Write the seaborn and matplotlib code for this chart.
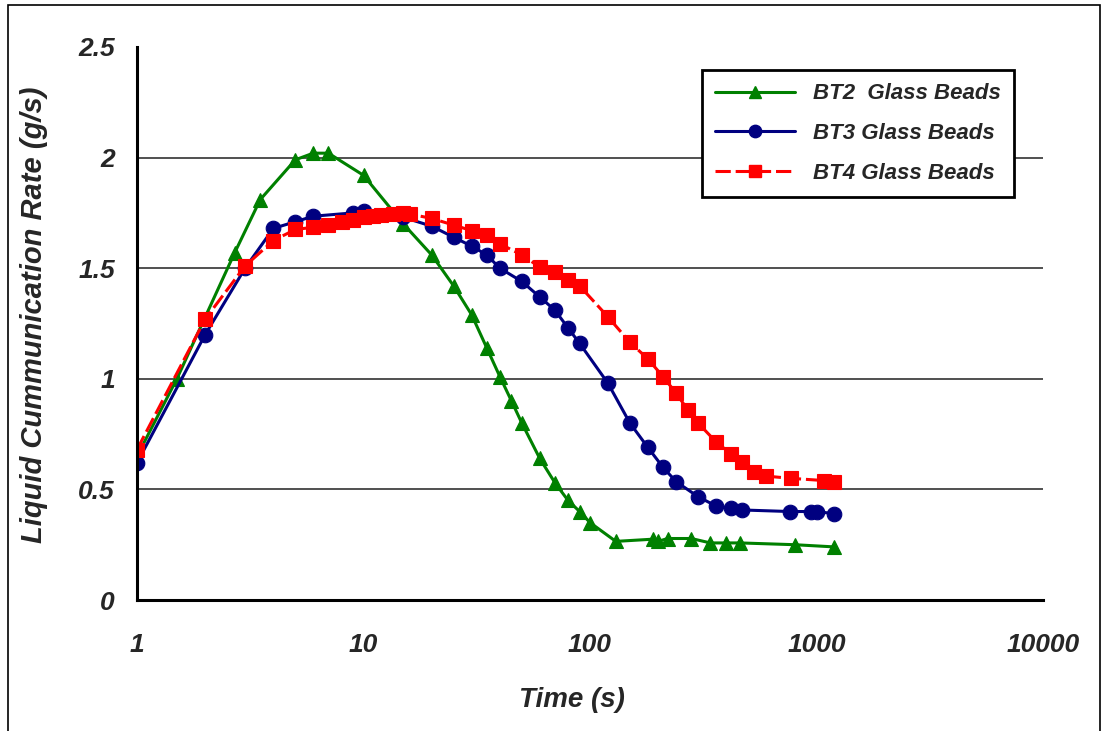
import matplotlib
matplotlib.use("Agg")
import matplotlib.pyplot as plt
import seaborn as sns
import pandas as pd
from matplotlib.ticker import MultipleLocator, LogLocator, NullFormatter
from matplotlib.lines import Line2D
from matplotlib.patches import Rectangle

# ---------------- data ----------------
bt2_t = [1, 1.5, 2.7, 3.5, 5, 6, 7, 10, 15, 20, 25, 30, 35, 40, 45, 50, 60, 70,
         80, 90, 100, 130, 190, 200, 220, 280, 340, 400, 460, 800, 1200]
bt2_y = [0.65, 1.00, 1.57, 1.81, 1.99, 2.02, 2.02, 1.92, 1.70, 1.56, 1.42, 1.29,
         1.14, 1.01, 0.90, 0.80, 0.64, 0.53, 0.45, 0.40, 0.35, 0.265, 0.275,
         0.265, 0.278, 0.278, 0.258, 0.258, 0.258, 0.25, 0.24]

bt3_t = [1, 2, 3, 4, 5, 6, 9, 10, 15, 20, 25, 30, 35, 40, 50, 60, 70, 80, 90,
         120, 150, 180, 210, 240, 300, 360, 420, 470, 760, 950, 1000, 1200]
bt3_y = [0.62, 1.20, 1.50, 1.68, 1.71, 1.735, 1.75, 1.76, 1.73, 1.69, 1.64,
         1.60, 1.56, 1.50, 1.44, 1.37, 1.31, 1.23, 1.16, 0.98, 0.80, 0.69, 0.60,
         0.535, 0.467, 0.425, 0.414, 0.407, 0.40, 0.40, 0.40, 0.39]

bt4_t = [1, 2, 3, 4, 5, 6, 7, 8, 9, 10, 11, 12, 13.5, 15, 16, 20, 25, 30, 35,
         40, 50, 60, 70, 80, 90, 120, 150, 180, 210, 240, 270, 300, 360, 420,
         470, 530, 600, 770, 1080, 1200]
bt4_y = [0.68, 1.27, 1.51, 1.625, 1.675, 1.685, 1.695, 1.71, 1.72, 1.73, 1.735,
         1.74, 1.745, 1.75, 1.745, 1.725, 1.695, 1.67, 1.65, 1.61, 1.56, 1.505,
         1.485, 1.445, 1.42, 1.28, 1.165, 1.09, 1.01, 0.935, 0.86, 0.80, 0.715,
         0.66, 0.625, 0.58, 0.56, 0.55, 0.54, 0.535]

series_names = ["BT2  Glass Beads", "BT3 Glass Beads", "BT4 Glass Beads"]
x_ticks = [1, 10, 100, 1000, 10000]
x_tick_labels = ["1", "10", "100", "1000", "10000"]
y_ticks = [0, 0.5, 1, 1.5, 2, 2.5]
y_tick_labels = ["0", "0.5", "1", "1.5", "2", "2.5"]

# ---------------- styling ----------------
sns.set_style("white")
plt.rcParams["font.family"] = ["Liberation Sans", "DejaVu Sans"]

fig = plt.figure(figsize=(11.07, 7.31), dpi=100)
ax = fig.add_axes([137 / 1107, 1 - 600 / 731, (1043 - 137) / 1107, (600 - 47) / 731])

styles = [
    dict(color="#008000", marker="^", markersize=10, linestyle="-"),
    dict(color="#000080", marker="o", markersize=10.5, linestyle="-"),
    dict(color="#FF0000", marker="s", markersize=10.5, linestyle=(0, (5, 1.6))),
]
data = [(bt2_t, bt2_y), (bt3_t, bt3_y), (bt4_t, bt4_y)]

for (t, y), name, st in zip(data, series_names, styles):
    df = pd.DataFrame({"Time": t, "Rate": y})
    sns.lineplot(data=df, x="Time", y="Rate", ax=ax, sort=False, estimator=None,
                 color=st["color"], marker=st["marker"], markersize=st["markersize"],
                 markeredgecolor=st["color"], markeredgewidth=0.8,
                 linewidth=2.2, linestyle=st["linestyle"], legend=False)

ax.set_xscale("log")
ax.set_xlim(1, 10000)
ax.set_ylim(0, 2.5)

tick_font = dict(fontsize=19, fontweight="bold", fontstyle="italic")
ax.set_xticks(x_ticks, x_tick_labels, **tick_font)
ax.set_yticks(y_ticks, y_tick_labels, **tick_font)
ax.xaxis.set_minor_locator(LogLocator(base=10, subs=range(2, 10), numticks=20))
ax.xaxis.set_minor_formatter(NullFormatter())
ax.yaxis.set_minor_locator(MultipleLocator(0.1))

ax.tick_params(axis="both", which="major", direction="out", length=6, width=1,
               color="black")
ax.tick_params(axis="x", which="major", pad=18)
ax.tick_params(axis="y", which="major", pad=10)
ax.tick_params(axis="both", which="minor", direction="in", length=5, width=0.8,
               color="black")

ax.grid(False)
ax.yaxis.grid(True, which="major", color="#202020", linewidth=1.1)
ax.set_axisbelow(True)
gl = ax.get_ygridlines()
gl[-1].set_visible(False)

for side in ["top", "right"]:
    ax.spines[side].set_visible(False)
for side in ["left", "bottom"]:
    ax.spines[side].set_linewidth(2.2)
    ax.spines[side].set_color("black")

ax.set_xlabel("Time (s)", fontsize=20, fontweight="bold", fontstyle="italic")
ax.set_ylabel("Liquid Cummunication Rate (g/s)", fontsize=21,
              fontweight="bold", fontstyle="italic")
ax.xaxis.set_label_coords(0.48, -0.158)
ax.yaxis.set_label_coords(-0.098, 0.515)

handles = [Line2D([], [], color=st["color"], marker=st["marker"],
                  markersize=st["markersize"] * 0.85, markeredgecolor=st["color"],
                  linewidth=2.2, linestyle=st["linestyle"]) for st in styles]
leg = ax.legend(handles, series_names, loc="upper left",
                bbox_to_anchor=((702 - 137) / 906, (600 - 70) / 553),
                borderaxespad=0, frameon=True, fancybox=False, shadow=False,
                handlelength=3.6, handletextpad=0.8, borderpad=0.6,
                labelspacing=0.85, numpoints=1,
                prop=dict(size=16, weight="bold", style="italic"))
leg.get_frame().set_edgecolor("black")
leg.get_frame().set_linewidth(2.0)
leg.get_frame().set_facecolor("white")
leg.get_frame().set_alpha(1)

# outer chart border
fig.patches.append(Rectangle((8 / 1107, -0.01), (1100 - 8) / 1107, 1.0032,
                             transform=fig.transFigure, fill=False,
                             edgecolor="black", linewidth=1.2))

fig.savefig("out.png", dpi=100)
